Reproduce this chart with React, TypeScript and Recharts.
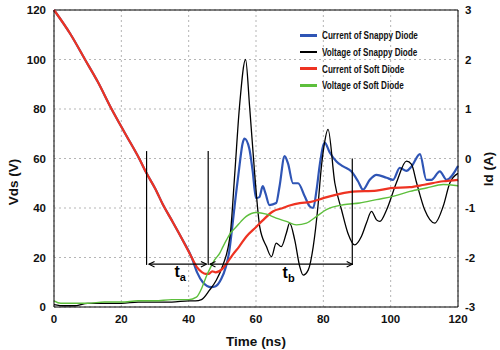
import {
  LineChart,
  Line,
  XAxis,
  YAxis,
  CartesianGrid,
  ReferenceLine,
  ReferenceDot,
} from "recharts";

const FONT = "'Liberation Sans', Arial, Helvetica, sans-serif";

const timeTicks = [0, 20, 40, 60, 80, 100, 120];
const vdsTicks = [0, 20, 40, 60, 80, 100, 120];
const idTicks = [-3, -2, -1, 0, 1, 2, 3];

// Current of Snappy Diode (A, right axis)
const snappyCurrentTime = [
  0, 5, 9.2, 13, 17.1, 21, 25.3, 27.5, 30, 32.5, 35, 38, 40.9, 42.5, 44.2, 46.7, 48, 49.7, 51, 52, 53, 54, 55, 56,
  56.6, 58, 59, 60, 61, 62, 62.8, 64, 66, 67, 68.5, 69.5, 71, 72.5, 74.5, 76, 77, 78, 79, 80.4, 81.9, 83.9, 85.9,
  88.3, 90.3, 91.8, 93.8, 95.8, 98.8, 100.7, 102.7, 104.7, 106.2, 108.7, 110.6, 112.1, 114.6, 116.6, 120,
];
const snappyCurrentId = [
  3.0, 2.5, 2.0, 1.55, 1.0, 0.52, 0.0, -0.3, -0.6, -0.95, -1.25, -1.62, -2.0, -2.3, -2.5, -2.6, -2.58, -2.43,
  -2.2, -1.9, -1.35, -0.75, -0.2, 0.3, 0.4, 0.2, -0.25, -0.8, -0.78, -0.56, -0.7, -0.94, -0.9, -0.56, 0.05, -0.1,
  -0.5, -0.5, -0.77, -0.97, -1.0, -0.63, -0.1, 0.32, 0.12, -0.06, -0.16, -0.26, -0.46, -0.63, -0.43, -0.33, -0.39,
  -0.43, -0.19, -0.25, -0.16, 0.09, -0.43, -0.43, -0.26, -0.43, -0.15,
];

// Voltage of Snappy Diode (V, left axis)
const snappyVoltageTime = [
  0, 3, 6, 10, 15, 20, 25, 30, 35, 40, 42, 43.8, 46.2, 48.2, 50.2, 51.7, 52.4, 53.7, 55.1, 56.9, 58.1, 59.6, 61.1,
  63.1, 64.6, 66, 67.5, 69, 70, 71.5, 73, 74, 75.5, 77, 78.4, 79.3, 80.2, 81.4, 83.4, 85.4, 87.3, 89.3, 91.3, 92.8,
  94.3, 95.8, 96.8, 98.8, 101.7, 104.7, 106.2, 107.7, 110.1, 113.1, 115.6, 117.6, 120,
];
const snappyVoltageVds = [
  1, 0.5, 0.5, 1.5, 1.5, 1.5, 2, 2, 2, 2.5, 2.5, 3, 6.8, 10.8, 17, 24, 30, 54, 81, 100, 81, 54, 32.5, 24.4, 20.3,
  25.8, 24.4, 29.8, 33.9, 27.1, 16.3, 12.9, 14.9, 24.4, 40.7, 55, 65, 71.8, 50.2, 39.3, 29.8, 25.1, 28.5, 33.9, 38.6,
  35.2, 34.6, 39.3, 50.2, 58.9, 57.6, 50.2, 39.3, 33.9, 40.7, 50.2, 54,
];

// Current of Soft Diode (A, right axis)
const softCurrentTime = [
  0, 5, 9.2, 13, 17.1, 21, 25.3, 27.5, 30, 32.5, 35, 38, 40.9, 42.5, 44, 45, 46, 47, 48, 50, 51.2, 53, 55, 57.1,
  60.1, 62, 65, 68, 70, 73, 76, 80, 85.9, 88.7, 95.8, 100, 105.7, 110, 115.6, 120,
];
const softCurrentId = [
  3.0, 2.5, 2.0, 1.55, 1.0, 0.52, 0.0, -0.3, -0.6, -0.95, -1.25, -1.62, -2.0, -2.2, -2.3, -2.33, -2.33, -2.28, -2.3,
  -2.23, -2.13, -1.95, -1.78, -1.58, -1.38, -1.25, -1.07, -1.0, -0.95, -0.9, -0.88, -0.8, -0.7, -0.67, -0.65, -0.6,
  -0.58, -0.53, -0.46, -0.43,
];

// Voltage of Soft Diode (V, left axis)
const softVoltageTime = [
  0, 2, 5, 10, 15, 20, 25, 30, 35, 40, 42.3, 44, 45.2, 46.5, 47.7, 49.2, 50.2, 51.2, 52.5, 54.2, 55.5, 57.1, 60.1,
  63.1, 66, 69, 72, 75, 78, 80.9, 85.9, 90.8, 95.8, 100.7, 105.7, 110.6, 115.6, 120,
];
const softVoltageVds = [
  2.5, 1.5, 1.5, 1.5, 2, 2, 2.5, 2.5, 3, 3, 4, 8, 12.2, 16, 19, 21.7, 24.4, 27, 30, 32.5, 34.5, 36.6, 38.2, 37.5,
  35.9, 34.6, 33.2, 33.9, 36.6, 39.3, 41.3, 42, 43.4, 44.7, 46.7, 48.1, 49.5, 49,
];

const series = [
  { name: "Current of Snappy Diode", color: "#2f55b5" },
  { name: "Voltage of Snappy Diode", color: "#000000" },
  { name: "Current of Soft Diode", color: "#ee3322" },
  { name: "Voltage of Soft Diode", color: "#5dbf3c" },
];

const snappyCurrent = snappyCurrentTime.map((t, i) => ({ t, v: snappyCurrentId[i] }));
const snappyVoltage = snappyVoltageTime.map((t, i) => ({ t, v: snappyVoltageVds[i] }));
const softCurrent = softCurrentTime.map((t, i) => ({ t, v: softCurrentId[i] }));
const softVoltage = softVoltageTime.map((t, i) => ({ t, v: softVoltageVds[i] }));

const tickStyle = { fill: "#111", fontSize: 11.5, fontWeight: "bold", fontFamily: FONT };
const titleStyle = { fill: "#111", fontSize: 13.5, fontWeight: "bold", fontFamily: FONT };

const arrowLine = (p: any) => (
  <line
    x1={p.x1}
    y1={p.y1}
    x2={p.x2}
    y2={p.y2}
    stroke="#000"
    strokeWidth={1.2}
    markerStart="url(#arrowHead)"
    markerEnd="url(#arrowHead)"
  />
);

const subLabel = (sub: string) => (p: any) => (
  <text x={p.cx} y={p.cy} fontFamily={FONT} fontWeight="bold" fontSize={16} fill="#000">
    t
    <tspan fontSize={11} dy={4}>
      {sub}
    </tspan>
  </text>
);

function ChartLegend() {
  return (
    <div
      style={{
        position: "absolute",
        left: 300,
        top: 27,
        fontFamily: FONT,
        fontWeight: "bold",
        fontSize: 11,
        color: "#111",
        whiteSpace: "nowrap",
      }}
    >
      {series.map((s) => (
        <div key={s.name} style={{ display: "flex", alignItems: "center", height: 16.7 }}>
          <span style={{ display: "inline-block", width: 17, height: 2.5, background: s.color, marginRight: 5 }} />
          <span style={{ display: "inline-block", transform: "scaleX(0.74)", transformOrigin: "left center" }}>
            {s.name}
          </span>
        </div>
      ))}
    </div>
  );
}

export default function App() {
  return (
    <div style={{ position: "absolute", left: 0, top: 0, width: 500, height: 350 }}>
      <LineChart width={500} height={350} margin={{ top: 10, right: 0, bottom: 0, left: 0 }}>
        <defs>
          <marker
            id="arrowHead"
            viewBox="0 0 10 10"
            refX="9"
            refY="5"
            markerWidth="7"
            markerHeight="8"
            markerUnits="userSpaceOnUse"
            orient="auto-start-reverse"
          >
            <path d="M1,1 L9,5 L1,9" fill="none" stroke="#000" strokeWidth={1.6} />
          </marker>
        </defs>
        <CartesianGrid yAxisId="left" stroke="#b5b5b5" strokeDasharray="2 3" />
        <XAxis
          dataKey="t"
          type="number"
          domain={[0, 120]}
          ticks={timeTicks}
          allowDuplicatedCategory={false}
          height={43}
          tickSize={0}
          tickMargin={8}
          stroke="#000"
          tick={tickStyle}
          label={{
            content: () => (
              <text x={256} y={346} textAnchor="middle" style={titleStyle}>
                Time (ns)
              </text>
            ),
          }}
        />
        <YAxis
          yAxisId="left"
          domain={[0, 120]}
          ticks={vdsTicks}
          width={54}
          tickSize={0}
          tickMargin={8}
          stroke="#000"
          tick={tickStyle}
          label={{
            content: () => (
              <text transform="translate(18,182) rotate(-90)" textAnchor="middle" style={titleStyle}>
                Vds (V)
              </text>
            ),
          }}
        />
        <YAxis
          yAxisId="right"
          orientation="right"
          domain={[-3, 3]}
          ticks={idTicks}
          width={42}
          tickSize={0}
          tickMargin={7}
          stroke="#000"
          tick={{ ...tickStyle, textAnchor: "start" }}
          label={{
            content: () => (
              <text transform="translate(493,169) rotate(-90)" textAnchor="middle" style={titleStyle}>
                Id (A)
              </text>
            ),
          }}
        />
        <ReferenceLine yAxisId="left" y={120} stroke="#000" />
        <Line
          yAxisId="right"
          data={snappyCurrent}
          dataKey="v"
          name={series[0].name}
          stroke={series[0].color}
          strokeWidth={2.2}
          dot={false}
          type="monotone"
          isAnimationActive={false}
        />
        <Line
          yAxisId="left"
          data={snappyVoltage}
          dataKey="v"
          name={series[1].name}
          stroke={series[1].color}
          strokeWidth={1.3}
          dot={false}
          type="monotone"
          isAnimationActive={false}
        />
        <Line
          yAxisId="right"
          data={softCurrent}
          dataKey="v"
          name={series[2].name}
          stroke={series[2].color}
          strokeWidth={2.2}
          dot={false}
          type="monotone"
          isAnimationActive={false}
        />
        <Line
          yAxisId="left"
          data={softVoltage}
          dataKey="v"
          name={series[3].name}
          stroke={series[3].color}
          strokeWidth={1.4}
          dot={false}
          type="monotone"
          isAnimationActive={false}
        />
        <ReferenceLine yAxisId="left" segment={[{ x: 27.5, y: 63 }, { x: 27.5, y: 17 }]} stroke="#000" strokeWidth={1.2} />
        <ReferenceLine yAxisId="left" segment={[{ x: 45.8, y: 63 }, { x: 45.8, y: 17 }]} stroke="#000" strokeWidth={1.2} />
        <ReferenceLine yAxisId="left" segment={[{ x: 88.6, y: 60 }, { x: 88.6, y: 17 }]} stroke="#000" strokeWidth={1.2} />
        <ReferenceLine yAxisId="left" segment={[{ x: 28.2, y: 17.3 }, { x: 45.3, y: 17.3 }]} shape={arrowLine} />
        <ReferenceLine yAxisId="left" segment={[{ x: 46.3, y: 17.3 }, { x: 88.6, y: 17.3 }]} shape={arrowLine} />
        <ReferenceDot yAxisId="left" x={35.8} y={12} r={0} shape={subLabel("a")} />
        <ReferenceDot yAxisId="left" x={67.9} y={11.7} r={0} shape={subLabel("b")} />
      </LineChart>
      <ChartLegend />
    </div>
  );
}
